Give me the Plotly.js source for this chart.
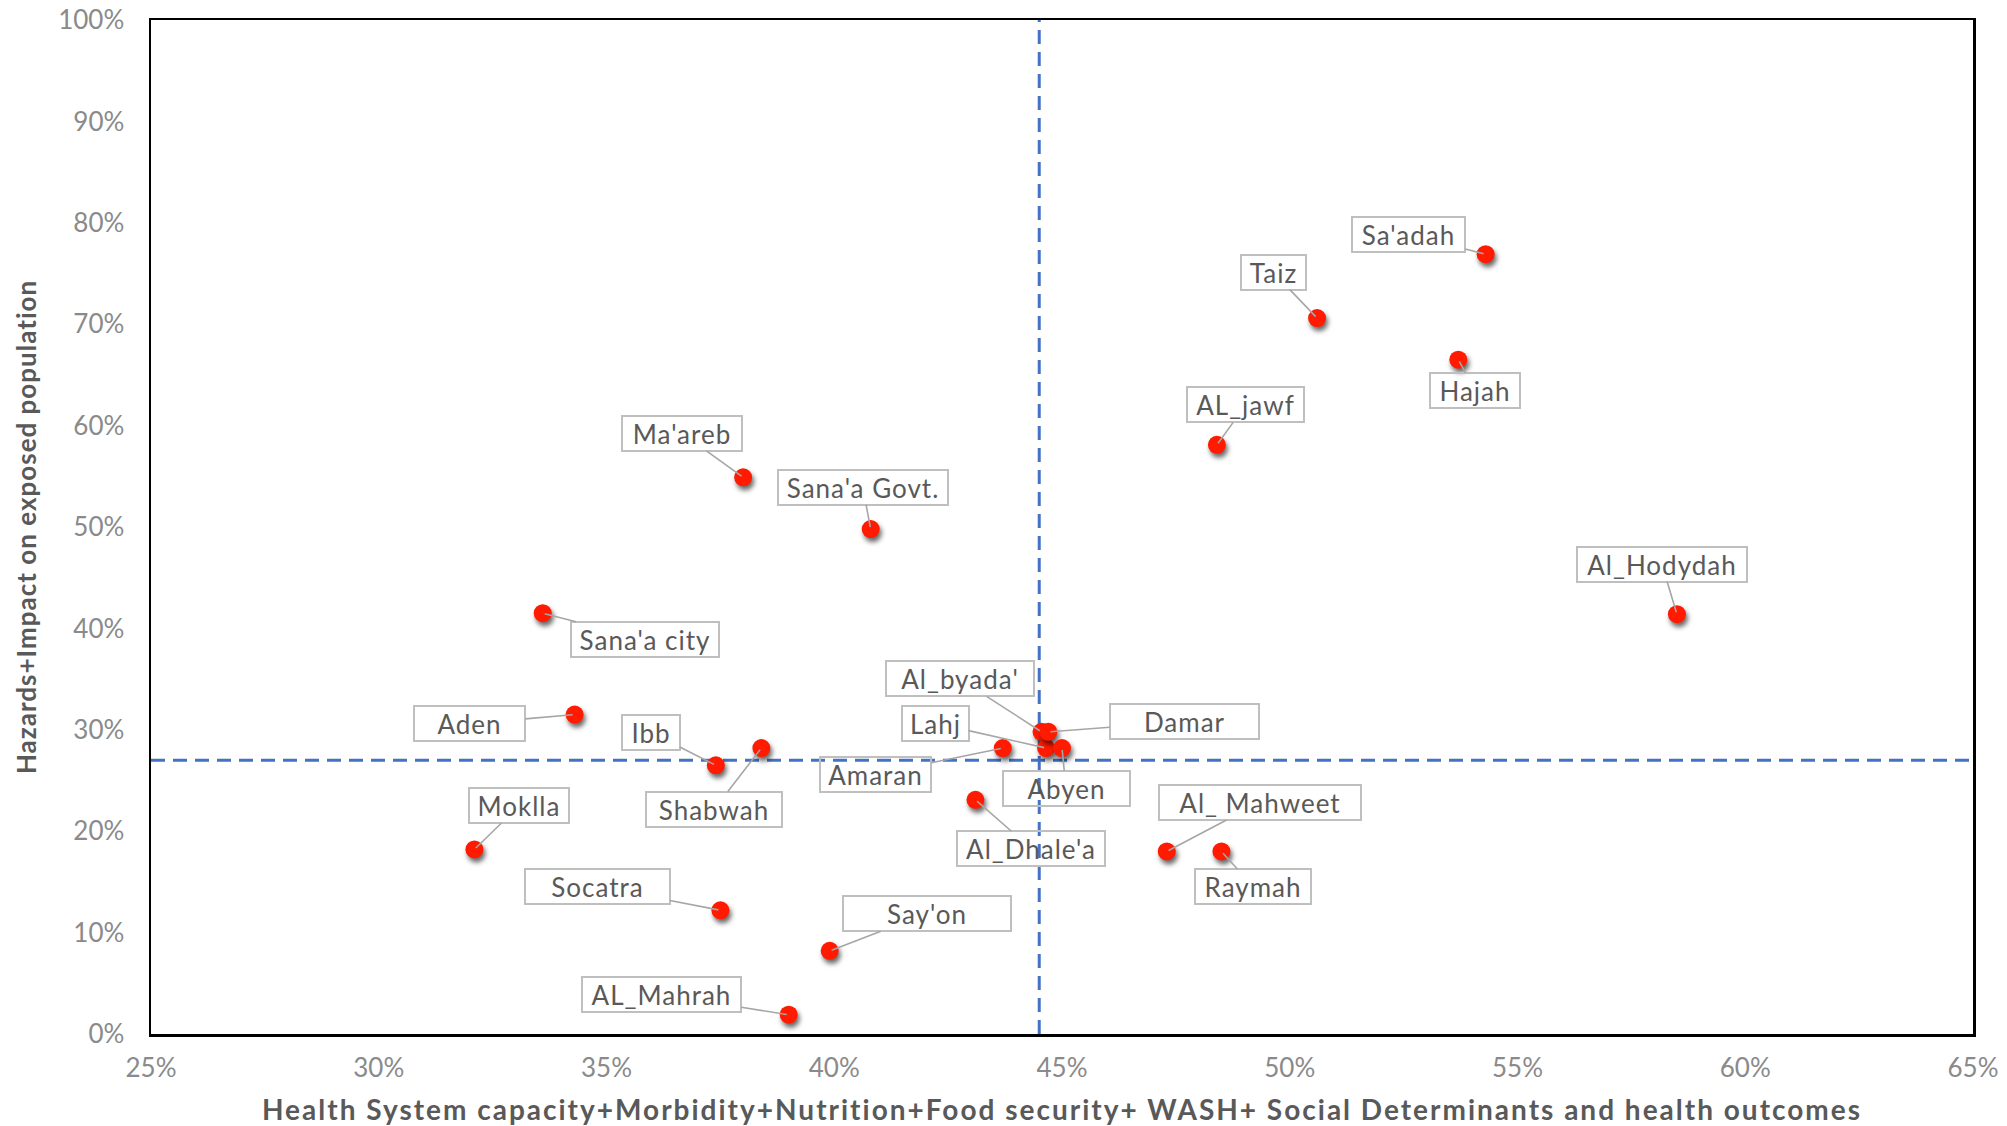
<!DOCTYPE html>
<html>
<head>
<meta charset="utf-8">
<script src="https://cdn.plot.ly/plotly-3.0.1.min.js"></script>
<style>
  html, body { margin: 0; padding: 0; background: #ffffff; }
  #chart { width: 2007px; height: 1126px; }
  .scatterlayer .points path { filter: drop-shadow(2px 4px 2.5px rgba(0,0,0,0.6)); }
  .annotation-text { letter-spacing: 1px; }
  .xtitle { letter-spacing: 2px; }
  .ytitle { letter-spacing: 1px; }
</style>
</head>
<body>
<div id="chart"></div>
<script>
// ---- Data ----
const governorates = ["Sa'adah", "Taiz", "Hajah", "AL_jawf", "Al_Hodydah", "Ma'areb", "Sana'a Govt.",
  "Sana'a city", "Aden", "Ibb", "Shabwah", "Moklla", "Socatra", "Say'on", "AL_Mahrah",
  "Amaran", "Al_byada'", "Lahj", "Damar", "Abyen", "Al_Dhale'a", "Al_ Mahweet", "Raymah"];
// Health System capacity + ... (x)
const healthScore = [0.543, 0.506, 0.537, 0.484, 0.585, 0.380, 0.408,
  0.336, 0.343, 0.374, 0.384, 0.321, 0.375, 0.399, 0.390,
  0.437, 0.4455, 0.4465, 0.447, 0.450, 0.431, 0.473, 0.485];
// Hazards + Impact on exposed population (y)
const hazardScore = [0.769, 0.706, 0.665, 0.581, 0.414, 0.549, 0.498,
  0.415, 0.315, 0.265, 0.282, 0.182, 0.122, 0.082, 0.019,
  0.282, 0.298, 0.282, 0.298, 0.282, 0.231, 0.180, 0.180];
// Reference (average) lines
const refX = [0.445, 0.445];
const refXSpan = [0, 1];
const refYSpan = [0.25, 0.65];
const refY = [0.270, 0.270];
const xTickVals = [0.25, 0.30, 0.35, 0.40, 0.45, 0.50, 0.55, 0.60, 0.65];
const yTickVals = [0, 0.1, 0.2, 0.3, 0.4, 0.5, 0.6, 0.7, 0.8, 0.9, 1.0];
const xTitle = "Health System capacity+Morbidity+Nutrition+Food security+ WASH+ Social Determinants and health outcomes";
const yTitle = "Hazards+Impact on exposed population";

// ---- Label placement (pixel offsets of each label box from its point, and box widths) ----
const labelDX = [-77, -44, 17, 29, -15, -61, -8, 102, -105, -65, -47, 45, -123, 97, -127, -127, -82, -111, 136, 4, 56, 93, 32];
const labelDY = [-20, -46, 31, -40, -50, -44, -42, 26, 9, -33, 61, -44, -24, -37, -20, 26, -53, -25, -10, 40, 49, -49, 35];
const labelW  = [115, 67, 92, 119, 172, 122, 172, 150, 113, 60, 138, 102, 147, 170, 161, 113, 150, 69, 151, 129, 150, 204, 118];

const FONT = "Lato, 'Open Sans', 'DejaVu Sans', sans-serif";

const traces = [
  { x: refYSpan, y: refY, mode: "lines", type: "scatter", hoverinfo: "skip", showlegend: false,
    line: { color: "#4472C4", width: 3, dash: "14px,8px" } },
  { x: refX, y: refXSpan, mode: "lines", type: "scatter", hoverinfo: "skip", showlegend: false,
    line: { color: "#4472C4", width: 3, dash: "14px,8px" } },
  { x: healthScore, y: hazardScore, text: governorates, mode: "markers", type: "scatter", showlegend: false,
    marker: { color: "#FF1A00", size: 18, line: { width: 0 } } }
];

const annotations = governorates.map((name, i) => ({
  x: healthScore[i], y: hazardScore[i], xref: "x", yref: "y",
  text: name, showarrow: true, arrowhead: 0, arrowwidth: 1.6, arrowcolor: "#A6A6A6",
  standoff: 2, ax: labelDX[i], ay: labelDY[i],
  width: labelW[i] - 6, height: 31,
  bordercolor: "#BFBFBF", borderwidth: 2, borderpad: 1, bgcolor: "rgba(0,0,0,0)",
  font: { family: FONT, size: 26, color: "#595959" }
}));

const layout = {
  width: 2007, height: 1126,
  margin: { l: 151, r: 34, t: 20, b: 92, autoexpand: false },
  paper_bgcolor: "#ffffff", plot_bgcolor: "#ffffff",
  showlegend: false,
  xaxis: {
    range: [0.25, 0.65], tickvals: xTickVals, tickformat: ".0%",
    showgrid: false, zeroline: false, showline: true, linecolor: "#000000", linewidth: 2.5, mirror: true,
    ticks: "", ticklabelstandoff: 9, automargin: false,
    tickfont: { family: FONT, size: 26, color: "#8A8A8A" },
    title: { text: xTitle, standoff: 24, font: { family: FONT, size: 28, color: "#595959", weight: "bold" } }
  },
  yaxis: {
    range: [0, 1], tickvals: yTickVals, tickformat: ".0%",
    showgrid: false, zeroline: false, showline: true, linecolor: "#000000", linewidth: 2.5, mirror: true,
    ticks: "", ticklabelstandoff: 19, automargin: false,
    tickfont: { family: FONT, size: 26, color: "#8A8A8A" },
    title: { text: yTitle, standoff: 14, font: { family: FONT, size: 26, color: "#595959", weight: "bold" } }
  },
  annotations: annotations
};

Plotly.newPlot("chart", traces, layout, { staticPlot: true, displayModeBar: false });
</script>
</body>
</html>
